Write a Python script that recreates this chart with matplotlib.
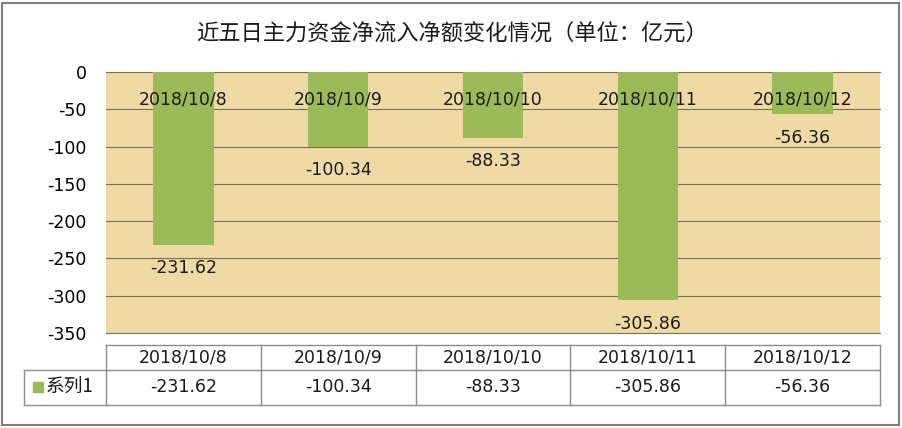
import matplotlib
matplotlib.use("Agg")
import matplotlib.pyplot as plt
from matplotlib.patches import Rectangle
from matplotlib.lines import Line2D

plt.rcParams['font.family'] = ['DejaVu Sans', 'Noto Sans CJK SC']
plt.rcParams['axes.unicode_minus'] = False

dates = ["2018/10/8", "2018/10/9", "2018/10/10", "2018/10/11", "2018/10/12"]
values = [-231.62, -100.34, -88.33, -305.86, -56.36]
series_name = "系列1"
title = "近五日主力资金净流入净额变化情况（单位：亿元）"
yticks = [0, -50, -100, -150, -200, -250, -300, -350]

bar_color = "#9BBB59"
paper = "#EFDAA5"
grid_color = "#7A6E57"
line_gray = "#8C8C8C"

fig = plt.figure(figsize=(9.03, 4.28), dpi=100)
W, H = 903, 428

def box(x0, y0, x1, y1):
    # pixel box (top-left origin) -> figure fraction
    return [x0 / W, 1 - y1 / H, (x1 - x0) / W, (y1 - y0) / H]

# outer border
fig.patches.append(Rectangle((2 / W, 3 / H), 897 / W, 422 / H, transform=fig.transFigure,
                             fill=False, edgecolor="#7F7F7F", linewidth=1.5))

fig.text(452 / W, 1 - 33 / H, title, family=['Noto Sans CJK SC'], fontsize=16,
         fontweight='medium', ha='center', va='center', color='#1a1a1a')

ax = fig.add_axes(box(106, 72, 880, 333))
ax.set_facecolor(paper)
x = list(range(len(dates)))
ax.set_xlim(-0.5, len(dates) - 0.5)
ax.set_ylim(-350, 0)
ax.set_yticks(yticks)
ax.set_yticklabels([str(t) for t in yticks], fontsize=12.5)
ax.tick_params(axis='y', length=0, pad=14)
ax.set_xticks([])
for s in ax.spines.values():
    s.set_visible(False)
for t in yticks:
    ax.axhline(t, color=grid_color, linewidth=0.8, zorder=1, clip_on=False)

ax.bar(x, values, width=0.39, color=bar_color, zorder=2)

for i, (d, v) in enumerate(zip(dates, values)):
    ax.annotate(d, (i, 0), xytext=(0, -20), textcoords='offset points',
                ha='center', va='center', fontsize=12.5, color='#1a1a1a', zorder=3)
    ax.annotate(f"{v:.2f}", (i, v), xytext=(0, -17), textcoords='offset points',
                ha='center', va='center', fontsize=12.5, color='#1a1a1a', zorder=3)

# data table
tab = fig.add_axes(box(106, 345, 880, 405))
tab.set_xlim(-0.5, len(dates) - 0.5)
tab.set_ylim(0, 60)
tab.axis('off')
lk = dict(color=line_gray, linewidth=1, clip_on=False)
x_left = -0.5 - 82 / 154.8
tab.add_line(Line2D([-0.5, 4.5], [60, 60], **lk))
tab.add_line(Line2D([x_left, 4.5], [35, 35], **lk))
tab.add_line(Line2D([x_left, 4.5], [0, 0], **lk))
tab.add_line(Line2D([x_left, x_left], [0, 35], **lk))
for k in range(len(dates) + 1):
    tab.add_line(Line2D([k - 0.5, k - 0.5], [0, 60], **lk))
for i, (d, v) in enumerate(zip(dates, values)):
    tab.text(i, 47.5, d, ha='center', va='center', fontsize=12.5, color='#1a1a1a')
    tab.text(i, 17.5, f"{v:.2f}", ha='center', va='center', fontsize=12.5, color='#1a1a1a')
sq = 10 / 154.8
tab.add_patch(Rectangle((x_left + 9 / 154.8, 13), sq, 10, color=bar_color, clip_on=False))
tab.text(x_left + 22 / 154.8, 17.5, series_name, family=['Noto Sans CJK SC', 'DejaVu Sans'],
         ha='left', va='center', fontsize=13.5, color='#1a1a1a')

fig.savefig("out.png", dpi=100)
